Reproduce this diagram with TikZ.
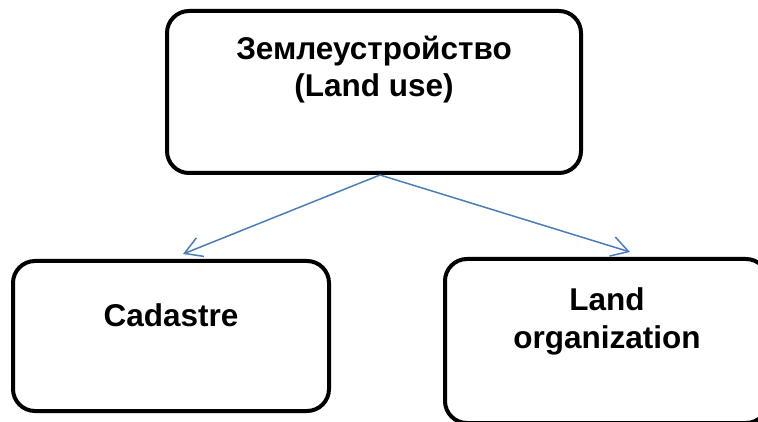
\documentclass[tikz,border=0pt]{standalone}
\usepackage{fontspec}
\setmainfont{Liberation Sans}
\usetikzlibrary{arrows.meta}
\definecolor{linkblue}{HTML}{4A7EBB}
\begin{document}
\begin{tikzpicture}[x=1pt,y=-1pt,
  box/.style={draw=black, line width=4pt, rounded corners=22pt, inner sep=0pt, fill=white},
  caption/.style={anchor=base, inner sep=0pt, font=\bfseries\fontsize{31.5}{37}\selectfont},
  link/.style={draw=linkblue, line width=1.5pt,
    -{Straight Barb[length=17pt, width=20pt, line width=1.5pt]}}]
\useasboundingbox (0,0) rectangle (758,422);
\begin{scope}
\clip (0,0) rectangle (758,422);
% parent box
\node[box, minimum width=414pt, minimum height=162pt] (use) at (374,92) {};
\node[caption] (useru) at (374,60) {Землеустройство};
\node[caption] (useen) at (374,97) {(Land use)};
% child boxes
\node[box, minimum width=316pt, minimum height=150pt] (cad) at (171,336) {};
\node[caption] (cadtext) at (171,326) {Cadastre};
\node[box, minimum width=323pt, minimum height=164pt] (org) at (606.5,341) {};
\node[caption] (orgtop) at (607,310) {Land};
\node[caption] (orgbot) at (607,348) {organization};
% connectors
\draw[link] ([xshift=6pt]use.south) -- ([xshift=12pt,yshift=5pt]cad.north);
\draw[link] ([xshift=6pt]use.south) -- ([xshift=23.5pt,yshift=5pt]org.north);
\end{scope}
\end{tikzpicture}
\end{document}
